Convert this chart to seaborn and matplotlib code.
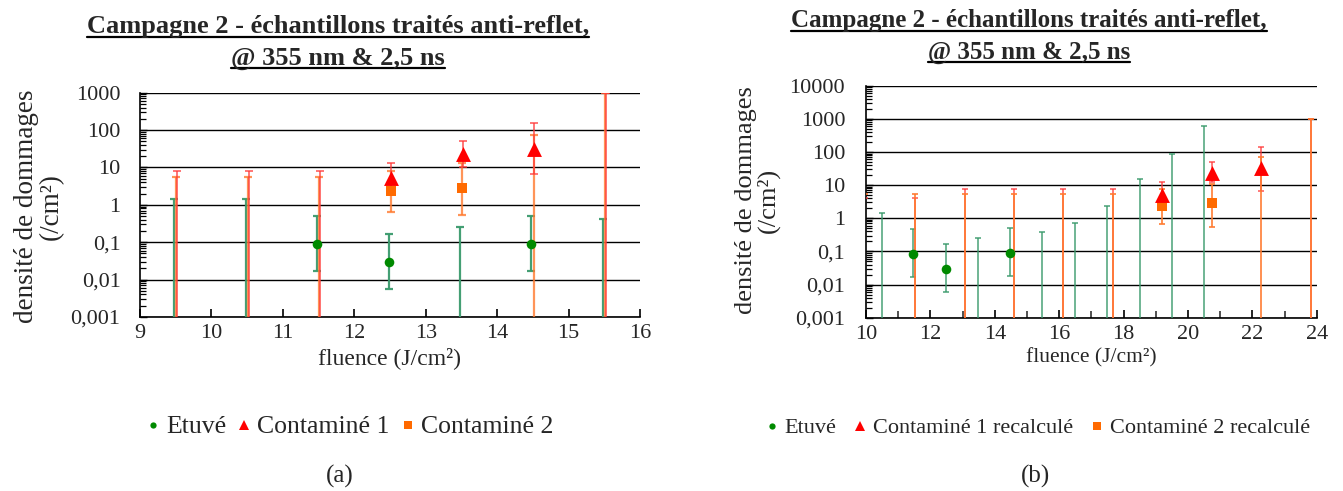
import numpy as np
import pandas as pd
import matplotlib
matplotlib.use("Agg")
import matplotlib.pyplot as plt
from matplotlib.lines import Line2D
from matplotlib.ticker import LogLocator, NullFormatter
import seaborn as sns

# ---------------- panel (a): measured fluence ----------------
a_x_etuve = [9.48, 10.48, 11.48, 12.48, 13.48, 14.48, 15.48]
a_val_etuve = [0, 0, 0.087, 0.03, 0, 0.087, 0]
a_lo_etuve = [0, 0, 0.017, 0.0057, 0, 0.0175, 0]
a_hi_etuve = [1.44, 1.44, 0.5, 0.17, 0.26, 0.51, 0.41]

a_x_c1 = [9.52, 10.52, 11.52, 12.52, 13.52, 14.52, 15.52]
a_val_c1 = [0, 0, 0, 5.1, 23, 32, 0]
a_lo_c1 = [0, 0, 0, 1.9, 10.5, 6.6, 0]
a_hi_c1 = [8.0, 8.0, 8.0, 13.4, 51, 152, 1000]

a_x_c2 = [9.51, 10.51, 11.51, 12.51, 13.51, 14.51, 15.51]
a_val_c2 = [0, 0, 0, 2.35, 2.8, 0, 0]
a_lo_c2 = [0, 0, 0, 0.66, 0.54, 0, 0]
a_hi_c2 = [5.7, 5.7, 5.7, 8.0, 13.4, 74, 1000]

a_xticks = [9, 10, 11, 12, 13, 14, 15, 16]
a_yticks = [0.001, 0.01, 0.1, 1, 10, 100, 1000]
a_ylabels = ["0,001", "0,01", "0,1", "1", "10", "100", "1000"]
a_legend = ["Etuvé", "Contaminé 1", "Contaminé 2"]

# ---------------- panel (b): recalculated fluence ----------------
b_x_etuve = [10.49, 11.47, 12.48, 13.48, 14.48, 15.48, 16.49, 17.49, 18.5, 19.49, 20.5]
b_val_etuve = [0, 0.084, 0.029, 0, 0.087, 0, 0, 0, 0, 0, 0]
b_lo_etuve = [0, 0.017, 0.0058, 0, 0.018, 0, 0, 0, 0, 0, 0]
b_hi_etuve = [1.4, 0.49, 0.17, 0.26, 0.5, 0.39, 0.71, 2.4, 14.9, 84, 620]

b_x_c = [9.98, 11.52, 13.06, 14.59, 16.13, 17.66, 19.2, 20.74, 22.27, 23.81]
b_val_c1 = [0, 0, 0, 0, 0, 0, 5.0, 22.5, 32, 0]
b_lo_c1 = [0, 0, 0, 0, 0, 0, 1.9, 12.6, 6.6, 0]
b_hi_c1 = [4.2, 4.2, 7.8, 7.8, 7.8, 7.8, 12.6, 50, 144, 1000]
b_val_c2 = [0, 0, 0, 0, 0, 0, 2.3, 2.8, 0, 0]
b_lo_c2 = [0, 0, 0, 0, 0, 0, 0.65, 0.54, 0, 0]
b_hi_c2 = [5.5, 5.5, 5.5, 5.5, 5.5, 5.5, 7.8, 10.6, 72, 1000]

b_xticks = [10, 12, 14, 16, 18, 20, 22, 24]
b_yticks = [0.001, 0.01, 0.1, 1, 10, 100, 1000, 10000]
b_ylabels = ["0,001", "0,01", "0,1", "1", "10", "100", "1000", "10000"]
b_legend = ["Etuvé", "Contaminé 1 recalculé", "Contaminé 2 recalculé"]

title_lines = ["Campagne 2 - échantillons traités anti-reflet,", "@ 355 nm & 2,5 ns"]
ylabel_text = "densité de dommages\n(/cm²)"
xlabel_text = "fluence (J/cm²)"

GREEN_PT, GREEN_BAR = "#008a00", "#3a9a6c"
RED_PT, RED_BAR = "#ff0000", "#ff3a3a"
ORANGE_PT, ORANGE_BAR = "#ff6a00", "#ff7a2e"

sns.set_theme(style="white")
plt.rcParams["font.family"] = ["Liberation Serif", "DejaVu Serif"]

W, H = 1343, 491
fig = plt.figure(figsize=(W / 100, H / 100), dpi=100)
ax_a = fig.add_axes([140 / W, 1 - 317 / H, 500 / W, 224.3 / H])
ax_b = fig.add_axes([866 / W, 1 - 317.7 / H, 450.7 / W, 232 / H])


def draw_bars(ax, x, lo, hi, color, lw, cap, alpha):
    floor = ax.get_ylim()[0] * 0.01
    lo_draw = [l if l > 0 else floor for l in lo]
    ax.vlines(x, lo_draw, hi, colors=color, lw=lw, alpha=alpha, zorder=3)
    ax.plot(x, hi, ls="none", marker="_", ms=cap, mew=lw, color=color, alpha=alpha, zorder=3)
    xl = [xi for xi, l in zip(x, lo) if l > 0]
    ll = [l for l in lo if l > 0]
    ax.plot(xl, ll, ls="none", marker="_", ms=cap, mew=lw, color=color, alpha=alpha, zorder=3)


def draw_points(ax, x, val, color, marker, s):
    df = pd.DataFrame({"x": x, "y": val})
    df = df[df["y"] > 0]
    sns.scatterplot(data=df, x="x", y="y", ax=ax, color=color, marker=marker,
                    s=s, linewidth=0, zorder=6, legend=False)


def style_axis(ax, xlim, xticks, minor_x, yticks, ylabels, tick_fs, ypad):
    ax.set_yscale("log")
    ax.set_xlim(*xlim)
    ax.set_ylim(yticks[0], yticks[-1])
    ax.set_xticks(xticks)
    ax.set_xticklabels([str(t) for t in xticks])
    if minor_x is not None:
        ax.set_xticks(minor_x, minor=True)
    ax.set_yticks(yticks)
    ax.set_yticklabels(ylabels)
    ax.yaxis.set_minor_locator(LogLocator(base=10, subs=np.arange(2, 10), numticks=20))
    ax.yaxis.set_minor_formatter(NullFormatter())
    ax.tick_params(axis="x", which="major", direction="in", length=6, width=1.2,
                   color="black", labelsize=tick_fs, pad=5, bottom=True, top=False)
    ax.tick_params(axis="x", which="minor", direction="in", length=5, width=1.2,
                   color="#333333", bottom=True, top=False)
    ax.tick_params(axis="y", which="major", direction="in", length=5, width=1.0,
                   color="black", labelsize=tick_fs, pad=ypad, left=True, right=False)
    ax.tick_params(axis="y", which="minor", direction="in", length=4.5, width=0.9,
                   color="black", left=True, right=False)
    ax.grid(True, axis="y", which="major", color="black", lw=1.0)
    ax.grid(False, axis="x")
    for side in ("top", "right"):
        ax.spines[side].set_visible(False)
    for side in ("left", "bottom"):
        ax.spines[side].set_visible(True)
        ax.spines[side].set_color("black")
        ax.spines[side].set_linewidth(1.2)
    ax.set_facecolor("white")
    ax.set_xlabel("")
    ax.set_ylabel("")


# ---------- panel (a)
style_axis(ax_a, (9, 16), a_xticks, None, a_yticks, a_ylabels, 16, 14)
draw_bars(ax_a, a_x_etuve, a_lo_etuve, a_hi_etuve, GREEN_BAR, 1.6, 6, 0.95)
draw_bars(ax_a, a_x_c2, a_lo_c2, a_hi_c2, ORANGE_BAR, 1.6, 6, 0.8)
draw_bars(ax_a, a_x_c1, a_lo_c1, a_hi_c1, RED_BAR, 1.3, 6, 0.75)
draw_points(ax_a, a_x_etuve, a_val_etuve, GREEN_PT, "o", 48)
draw_points(ax_a, a_x_c2, a_val_c2, ORANGE_PT, "s", 62)
draw_points(ax_a, a_x_c1, a_val_c1, RED_PT, "^", 115)
ax_a.set_xlabel(xlabel_text, fontsize=17)
ax_a.xaxis.set_label_coords(0.5, (317 - 347) / 224.3)
ax_a.set_ylabel(ylabel_text, fontsize=19.5, linespacing=1.0)
ax_a.yaxis.set_label_coords(-0.152, 0.494)

# ---------- panel (b): orange bars sit over the red ones
style_axis(ax_b, (10, 24), b_xticks, list(range(11, 24, 2)), b_yticks, b_ylabels, 16, 15)
draw_bars(ax_b, b_x_etuve, b_lo_etuve, b_hi_etuve, GREEN_BAR, 1.2, 5, 0.85)
draw_bars(ax_b, b_x_c, b_lo_c1, b_hi_c1, RED_BAR, 1.2, 5, 0.8)
draw_bars(ax_b, b_x_c, b_lo_c2, b_hi_c2, ORANGE_BAR, 1.3, 5, 0.9)
draw_points(ax_b, b_x_etuve, b_val_etuve, GREEN_PT, "o", 48)
draw_points(ax_b, b_x_c, b_val_c2, ORANGE_PT, "s", 62)
draw_points(ax_b, b_x_c, b_val_c1, RED_PT, "^", 115)
ax_b.set_xlabel(xlabel_text, fontsize=15.5)
ax_b.xaxis.set_label_coords(0.5, (317.7 - 348) / 232)
ax_b.set_ylabel(ylabel_text, fontsize=19, linespacing=1.0)
ax_b.yaxis.set_label_coords(-0.19, 0.507)

# ---------- legends
def legend_handles():
    return [
        Line2D([], [], ls="none", marker="o", ms=4.5, color=GREEN_PT, mew=0),
        Line2D([], [], ls="none", marker="^", ms=7, color=RED_PT, mew=0),
        Line2D([], [], ls="none", marker="s", ms=5.5, color=ORANGE_PT, mew=0),
    ]

fig.legend(legend_handles(), a_legend, loc="center", ncol=3, frameon=False,
           bbox_to_anchor=(350 / W, 1 - 427 / H), fontsize=18.5,
           handlelength=0.5, handletextpad=0.26, columnspacing=0.45)
fig.legend(legend_handles(), b_legend, loc="center", ncol=3, frameon=False,
           bbox_to_anchor=(1038 / W, 1 - 428 / H), fontsize=16,
           handlelength=0.5, handletextpad=0.34, columnspacing=0.8)

# ---------- titles (bold, underlined) and panel letters
titles = []
for cx, ys, fs in ((338, (27, 58), 19), (1029, (21, 52), 18)):
    for line, y in zip(title_lines, ys):
        titles.append(fig.text(cx / W, 1 - y / H, line, ha="center", va="center",
                               fontsize=fs, fontweight="bold"))
fig.text(340 / W, 1 - 476 / H, "(a)", ha="center", va="center", fontsize=18)
fig.text(1035 / W, 1 - 476 / H, "(b)", ha="center", va="center", fontsize=18)

fig.canvas.draw()
renderer = fig.canvas.get_renderer()
for t in titles:
    bb = t.get_window_extent(renderer)
    y_line = bb.y0 + 1.5
    fig.add_artist(Line2D([bb.x0 / W, bb.x1 / W], [y_line / H, y_line / H],
                          transform=fig.transFigure, color="black", lw=1.6))

fig.savefig("out.png", dpi=100, facecolor="white")
